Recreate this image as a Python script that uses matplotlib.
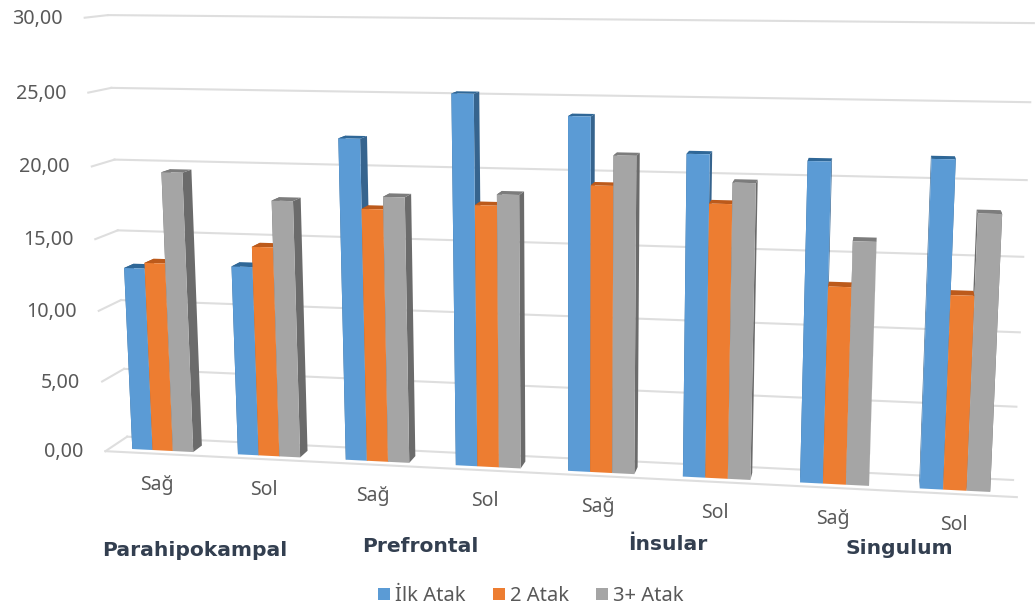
import numpy as np
import matplotlib
matplotlib.use("Agg")
import matplotlib.pyplot as plt
from matplotlib.patches import Polygon
from matplotlib.transforms import Transform, IdentityTransform

# ---- data ----
side_labels = ["Sağ", "Sol", "Sağ", "Sol", "Sağ", "Sol", "Sağ", "Sol"]
group_labels = ["Parahipokampal", "Prefrontal", "İnsular", "Singulum"]
series_names = ["İlk Atak", "2 Atak", "3+ Atak"]
ilk_atak = [12.9, 13.25, 22.15, 25.25, 23.9, 21.6, 21.3, 21.6]
iki_atak = [13.3, 14.65, 17.45, 17.9, 19.4, 18.4, 13.2, 12.9]
uc_atak = [19.6, 17.85, 18.3, 18.65, 21.4, 19.8, 16.2, 18.2]
y_ticks = [0, 5, 10, 15, 20, 25, 30]

# ---- styles ----
W, H = 1036, 608
front_cols = ["#5B9BD5", "#ED7D31", "#A5A5A5"]
side_cols = ["#36648E", "#A9561F", "#6B6B6B"]
top_cols = ["#2F6797", "#BC5A1B", "#7C7C7C"]
grid_col = "#DEDEDE"
text_col = "#595959"
bar_w, d_front, d_back = 0.193, 0.22, 0.66

# ---- camera: a projective map fitted to the chart box ----
anchors = [
    ((0, 0, 0), (105, 451)), ((8, 0, 0), (1017, 497)),
    ((0, 30, 0), (85, 18)),
    ((0, 0, 1), (128, 437)), ((8, 0, 1), (1013, 480)),
    ((0, 30, 1), (108, 15)), ((8, 30, 1), (1034, 23)),
    ((8, 15, 1), (1023, 257)), ((0, 15, 1), (117, 230)),
]
rows = []
for (u, v, d), (px, py) in anchors:
    X = np.array([u / 8, v / 30, d, 1.0])
    px, py = px / 1000, (H - py) / 1000
    rows.append(np.r_[X, np.zeros(4), -px * X])
    rows.append(np.r_[np.zeros(4), X, -py * X])
P = np.linalg.svd(np.array(rows))[2][-1].reshape(3, 4)


def project(u, v, d):
    u, v, d = np.broadcast_arrays(np.asarray(u, float), np.asarray(v, float),
                                  np.asarray(d, float))
    X = np.stack([u / 8, v / 30, d, np.ones_like(u)], axis=-1)
    q = X @ P.T
    return q[..., :2] / q[..., 2:3] * 1000


class Plane(Transform):
    """(category, value) on a plane of constant depth -> display pixels."""
    input_dims = output_dims = 2
    is_affine = False
    has_inverse = False

    def __init__(self, plane_depth):
        super().__init__()
        self.plane_depth = plane_depth

    def transform_non_affine(self, values):
        values = np.asarray(values, float)
        return project(values[:, 0], values[:, 1], self.plane_depth)


ident = IdentityTransform()
plt.rcParams["font.family"] = ["Noto Sans", "DejaVu Sans"]
fig = plt.figure(figsize=(W / 100, H / 100), dpi=100, facecolor="white")
ax = fig.add_axes([0, 0, 1, 1])
ax.axis("off")

# walls
for v in y_ticks:
    ax.plot([0, 8], [v, v], color=grid_col, lw=1.5, transform=Plane(1.0),
            clip_on=False, zorder=1)
    pts = project([0, 0], [v, v], [0, 1])
    ax.plot(pts[:, 0], pts[:, 1], color=grid_col, lw=1.5, transform=ident,
            clip_on=False, zorder=1)
    x0, y0 = pts[0]
    ax.text(x0 - 22, y0 - 1, f"{v:.2f}".replace(".", ","), transform=ident,
            ha="right", va="center", fontsize=14.2, color=text_col)
ax.plot([0, 8], [0, 0], color=grid_col, lw=1.5, transform=Plane(0.0),
        clip_on=False, zorder=1)

# bars
n = len(side_labels)
cats = np.arange(n) + 0.5
front_plane = Plane(d_front)
for s, vals in enumerate([ilk_atak, iki_atak, uc_atak]):
    xs = cats + (s - 1) * bar_w
    ax.bar(xs, vals, width=bar_w, color=front_cols[s], label=series_names[s],
           transform=front_plane, clip_on=False, zorder=4, linewidth=0)
    for x, v in zip(xs, vals):
        xl, xr = x - bar_w / 2, x + bar_w / 2
        for xe in (xl, xr):
            quad = project([xe] * 4, [0, v, v, 0], [d_front, d_front, d_back, d_back])
            ax.add_patch(Polygon(quad, closed=True, fc=side_cols[s], ec="none",
                                 transform=ident, clip_on=False, zorder=2))
        quad = project([xl, xr, xr, xl], [v] * 4, [d_front, d_front, d_back, d_back])
        ax.add_patch(Polygon(quad, closed=True, fc=top_cols[s], ec="none",
                             transform=ident, clip_on=False, zorder=3))

# category labels
for c, lab in zip(cats, side_labels):
    x0, y0 = project(c, 0, 0)
    ax.text(x0 - 1, y0 - 31, lab, transform=ident, ha="center", va="center",
            fontsize=14, color=text_col)

group_pos = [(195, 551), (420, 546), (668, 545), (899, 548)]
for (gx, gy), lab in zip(group_pos, group_labels):
    ax.text(gx, H - gy, lab, transform=ident, ha="center", va="center",
            fontsize=14.6, fontweight="bold", family="DejaVu Sans", color="#333F50")

ax.set_xlim(0, n)
ax.set_ylim(0, 30)
ax.legend(loc="center", bbox_to_anchor=(531 / W, 1 - 596 / H), ncol=3, frameon=False,
          fontsize=14.5, handlelength=0.6, handleheight=0.6, handletextpad=0.25,
          columnspacing=1.35, labelcolor=text_col, borderpad=0, borderaxespad=0)

fig.savefig("out.png", dpi=100)
